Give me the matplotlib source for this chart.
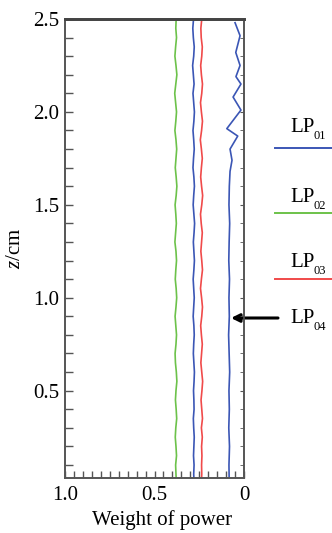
import matplotlib
matplotlib.use("Agg")
import matplotlib.pyplot as plt
from matplotlib.ticker import MultipleLocator, FixedLocator, FixedFormatter

plt.rcParams['font.family'] = ['Liberation Serif', 'DejaVu Serif']
plt.rcParams['mathtext.fontset'] = 'custom'
plt.rcParams['mathtext.rm'] = 'Liberation Serif'
plt.rcParams['mathtext.it'] = 'Liberation Serif:italic'

# z positions [cm] shared by LP01, LP02, LP03
z_cm = [0.03, 0.05, 0.10, 0.15, 0.20, 0.25, 0.30, 0.35, 0.40, 0.45,
        0.50, 0.55, 0.60, 0.65, 0.70, 0.75, 0.80, 0.85, 0.90, 0.95,
        1.00, 1.05, 1.10, 1.15, 1.20, 1.25, 1.30, 1.35, 1.40, 1.45,
        1.50, 1.55, 1.60, 1.65, 1.70, 1.75, 1.80, 1.85, 1.90, 1.95,
        2.00, 2.05, 2.10, 2.15, 2.20, 2.25, 2.30, 2.35, 2.40, 2.45,
        2.50]

lp01 = [0.280, 0.281, 0.279, 0.282, 0.280, 0.278, 0.281, 0.283, 0.279, 0.280,
        0.282, 0.279, 0.277, 0.280, 0.283, 0.281, 0.278, 0.280, 0.284, 0.281,
        0.278, 0.281, 0.284, 0.280, 0.277, 0.280, 0.283, 0.279, 0.276, 0.280,
        0.284, 0.281, 0.277, 0.280, 0.285, 0.282, 0.278, 0.281, 0.285, 0.280,
        0.277, 0.281, 0.285, 0.279, 0.283, 0.287, 0.281, 0.278, 0.283, 0.286,
        0.282]

lp02 = [0.379, 0.380, 0.382, 0.377, 0.380, 0.384, 0.381, 0.376, 0.379, 0.383,
        0.380, 0.375, 0.378, 0.383, 0.385, 0.380, 0.377, 0.381, 0.385, 0.380,
        0.376, 0.379, 0.384, 0.381, 0.377, 0.380, 0.386, 0.382, 0.378, 0.381,
        0.385, 0.379, 0.375, 0.379, 0.384, 0.380, 0.376, 0.380, 0.386, 0.381,
        0.377, 0.382, 0.387, 0.381, 0.375, 0.380, 0.386, 0.382, 0.377, 0.381,
        0.379]

lp03 = [0.237, 0.236, 0.237, 0.235, 0.237, 0.233, 0.238, 0.232, 0.236, 0.240,
        0.235, 0.231, 0.236, 0.241, 0.237, 0.233, 0.238, 0.242, 0.236, 0.232,
        0.237, 0.243, 0.238, 0.232, 0.236, 0.241, 0.237, 0.233, 0.239, 0.243,
        0.236, 0.231, 0.237, 0.242, 0.238, 0.233, 0.238, 0.244, 0.237, 0.232,
        0.238, 0.243, 0.236, 0.232, 0.238, 0.242, 0.236, 0.233, 0.239, 0.241,
        0.236]

# LP04 has its own z samples (wavy near the top)
lp04_z = [0.03, 0.10, 0.20, 0.30, 0.40, 0.50, 0.60, 0.70, 0.80, 0.90,
          1.00, 1.10, 1.20, 1.30, 1.40, 1.50, 1.60, 1.68, 1.74, 1.80,
          1.87, 1.91, 2.01, 2.08, 2.15, 2.19, 2.25, 2.32, 2.41, 2.48]
lp04 = [0.083, 0.084, 0.081, 0.085, 0.082, 0.084, 0.080, 0.083, 0.086, 0.082,
        0.084, 0.081, 0.085, 0.083, 0.080, 0.084, 0.082, 0.078, 0.067, 0.078,
        0.035, 0.096, 0.017, 0.061, 0.017, 0.045, 0.022, 0.046, 0.022, 0.050]

x_ticks = [1.0, 0.5, 0.0]
x_labels = ["1.0", "0.5", "0"]
y_ticks = [0.5, 1.0, 1.5, 2.0, 2.5]

blue = "#3b56b5"
green = "#6cc24a"
red = "#f04a4a"

W, H = 332, 533
fig = plt.figure(figsize=(W / 100, H / 100), dpi=100)
ax = fig.add_axes([65 / W, 1 - 478 / H, (244 - 65) / W, (478 - 19) / H])

ax.plot(lp02, z_cm, color=green, lw=1.2)
ax.plot(lp01, z_cm, color=blue, lw=1.2)
ax.plot(lp03, z_cm, color=red, lw=1.2)
ax.plot(lp04, lp04_z, color=blue, lw=1.2)

ax.set_xlim(1.0, 0.0)
ax.set_ylim(0.03, 2.5)

ax.xaxis.set_major_locator(FixedLocator(x_ticks))
ax.xaxis.set_major_formatter(FixedFormatter(x_labels))
ax.xaxis.set_minor_locator(MultipleLocator(0.05))
ax.yaxis.set_major_locator(FixedLocator(y_ticks))
ax.yaxis.set_minor_locator(MultipleLocator(0.1))

ax.tick_params(axis='both', which='both', direction='in', labelsize=15,
               color='#555555', width=1.0)
ax.tick_params(axis='y', which='both', length=6, pad=4)
ax.tick_params(axis='x', which='both', length=5, top=False, pad=6)

# short ticks on the right spine
axr = ax.twinx()
axr.set_ylim(ax.get_ylim())
axr.yaxis.set_major_locator(FixedLocator(y_ticks))
axr.yaxis.set_minor_locator(MultipleLocator(0.1))
axr.tick_params(axis='y', which='both', direction='in', length=3,
                color='#555555', labelright=False)

for a in (ax, axr):
    for side in ['left', 'bottom', 'right']:
        a.spines[side].set_color('#555555')
        a.spines[side].set_linewidth(1.2)
    a.spines['top'].set_color('#444444')
    a.spines['top'].set_linewidth(2.0)

ax.set_xlabel("Weight of power", fontsize=15)
ax.xaxis.set_label_coords(0.545, -0.07)
ax.set_ylabel(r"$z$/cm", fontsize=15)
ax.yaxis.set_label_coords(-0.225, 0.5)

# labels on the right side
def fx(px):
    return px / W

def fy(py):
    return 1 - py / H

entries = [("01", blue, 132, 148), ("02", green, 202, 213), ("03", red, 267, 279)]
for sub, col, base, ly in entries:
    fig.text(fx(290), fy(base), "LP", fontsize=15, va='baseline')
    fig.text(fx(313), fy(base + 7), sub, fontsize=9, va='baseline')
    fig.add_artist(plt.Line2D([fx(275), fx(332)], [fy(ly), fy(ly)], color=col, lw=1.4))

fig.text(fx(290), fy(323), "LP", fontsize=15, va='baseline')
fig.text(fx(313), fy(330), "04", fontsize=9, va='baseline')
ax.annotate("", xy=(fx(231), fy(318)), xycoords='figure fraction',
            xytext=(fx(278), fy(318)), textcoords='figure fraction',
            arrowprops=dict(arrowstyle='-|>', color='black', lw=2.2,
                            mutation_scale=12, shrinkA=0, shrinkB=0))

fig.savefig("out.png", dpi=100)
